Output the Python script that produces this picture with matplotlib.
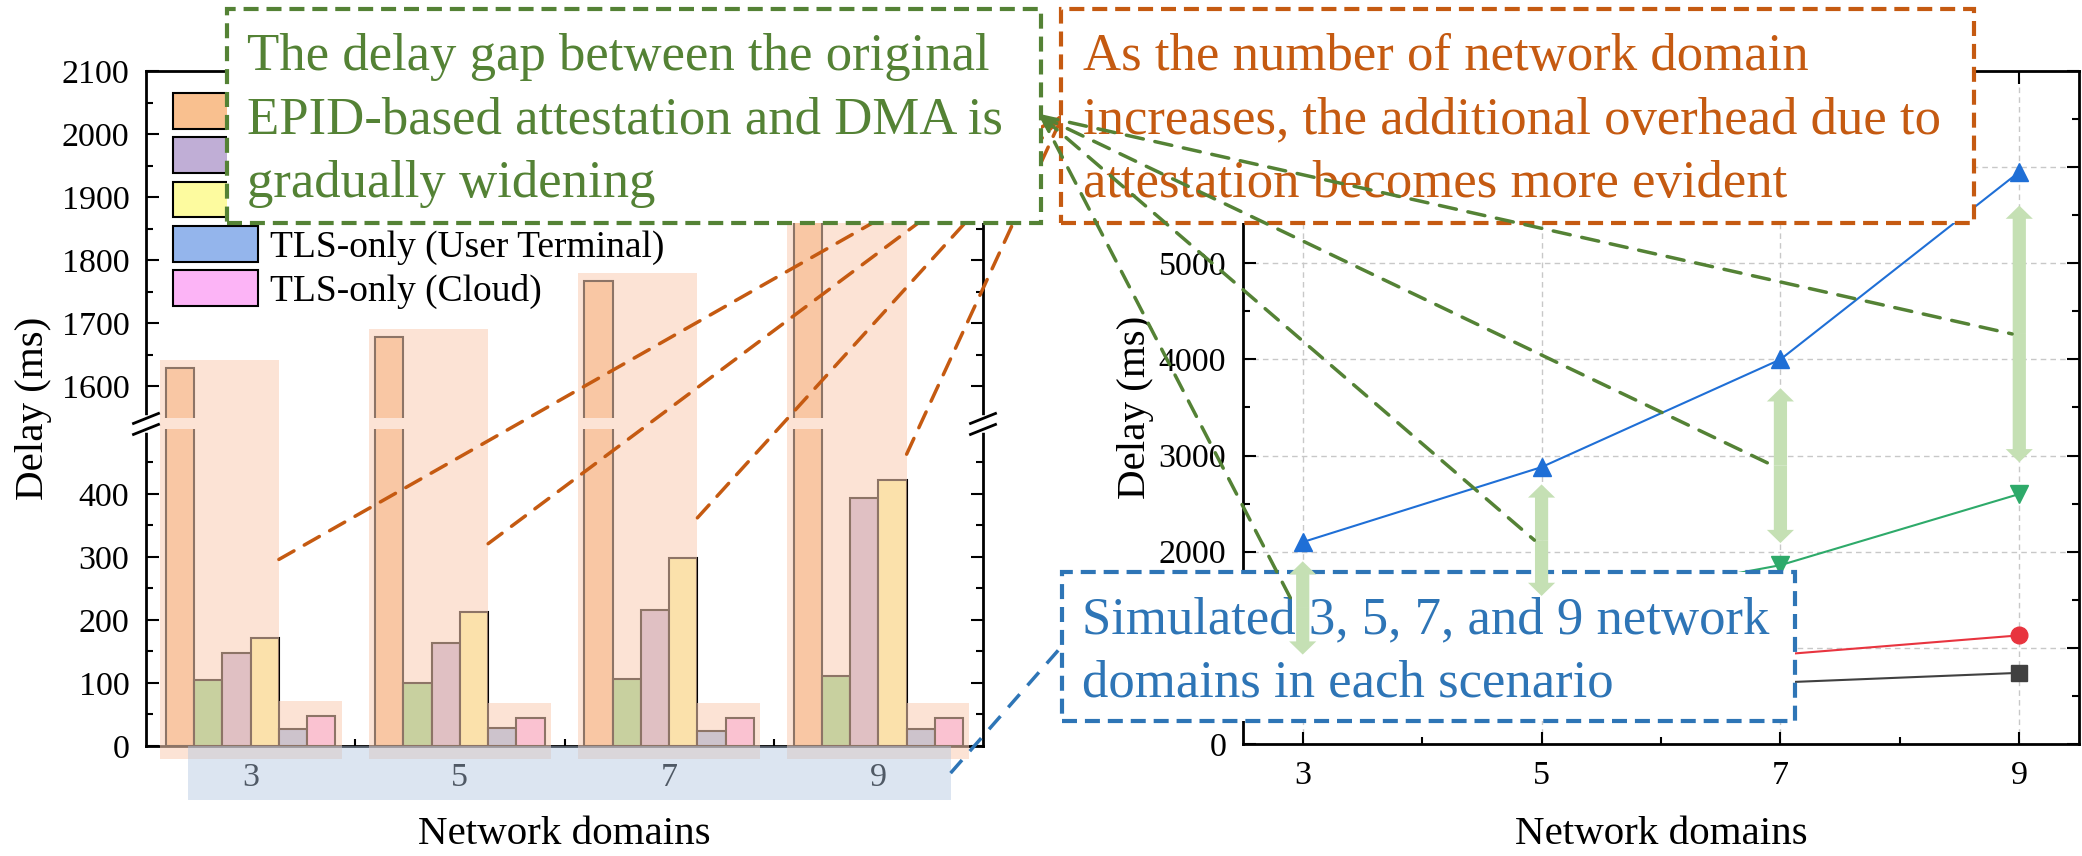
import numpy as np
import matplotlib
matplotlib.use("Agg")
import matplotlib.pyplot as plt
from matplotlib.patches import Rectangle, FancyArrowPatch, ConnectionPatch
from matplotlib.lines import Line2D
from matplotlib.ticker import FixedLocator

plt.rcParams["font.family"] = ["Liberation Serif", "DejaVu Serif"]

W, H = 2082, 856
GREEN = "#548235"
ORANGE = "#C55A11"
BLUE = "#2E75B6"

# ---------------- data ----------------
domains = [3, 5, 7, 9]

# left panel (bars, ms)
epid = [1628, 1678, 1767, 1920]
dma = [104, 100, 106, 111]
dma_user = [147, 163, 216, 394]
dma_cloud = [172, 212, 299, 422]
tls_user = [27, 28, 24, 27]
tls_cloud = [47, 44, 44, 44]

bar_series = [epid, dma, dma_user, dma_cloud, tls_user, tls_cloud]
bar_names = ["EPID-based attestation", "DMA", "DMA (User Terminal)", "DMA (Cloud)",
             "TLS-only (User Terminal)", "TLS-only (Cloud)"]
bar_colors = ["#F9C08F", "#88D384", "#C0AED6", "#FDFB9F", "#94B5EC", "#FCB4F6"]

# right panel (lines, ms)
line_epid = [2100, 2880, 4000, 5950]
line_dma = [830, 1400, 1860, 2600]
line_tls_a = [550, 740, 930, 1130]
line_tls_b = [420, 530, 640, 740]
right_yticks = [0, 1000, 2000, 3000, 4000, 5000, 6000, 7000]
right_ylabels = ["0", "", "2000", "3000", "4000", "5000", "", ""]  # the rest sit under the boxes

# gap arrows between EPID and DMA curves
gap_top = [1900, 2700, 3700, 5600]
gap_bottom = [930, 1540, 2090, 2930]

# where the orange pointers leave each bar group
callout_y = [296, 321, 362, 463]


def fx(px):
    return px / W


def fy(py):
    return 1 - py / H


fig = plt.figure(figsize=(W / 100, H / 100), dpi=100)
ax1 = fig.add_axes([fx(146), fy(746), fx(983) - fx(146), fy(71) - fy(746)])
ax2 = fig.add_axes([fx(1243), fy(744), fx(2079) - fx(1243), fy(71) - fy(744)])

# ---------------- left: broken y axis bar chart ----------------
LO, HI = 511, 1541


def fwd(y):
    y = np.asarray(y, float)
    return np.where(y <= LO, y, np.where(y >= HI, y - (HI - LO) + 1, LO + (y - LO) / (HI - LO)))


def inv(t):
    t = np.asarray(t, float)
    return np.where(t <= LO, t, np.where(t >= LO + 1, t + (HI - LO) - 1, LO + (t - LO) * (HI - LO)))


ax1.set_yscale("function", functions=(fwd, inv))
ax1.set_xlim(2, 10)
ax1.set_ylim(0, 2100)

w = 0.27
x = np.array(domains, float)
bars = []
for i, (vals, name, col) in enumerate(zip(bar_series, bar_names, bar_colors)):
    b = ax1.bar(x + (i - 2.5) * w, vals, w, color=col, edgecolor="black",
                linewidth=1.5, label=name, zorder=1)
    bars.append(b)

# white gap across the bars at the break
ax1.axhspan(503, 1549, color="white", lw=0, zorder=1.5)

# translucent orange highlight boxes over each group
hl = (250 / 255, 206 / 255, 181 / 255)
for k, xc in enumerate(x):
    left = xc - 3 * w - 0.06
    mid = xc + w
    right = xc + 3 * w + 0.06
    ax1.add_patch(Rectangle((left, -20), mid - left, epid[k] + 33, fc=hl, alpha=0.57,
                            lw=0, zorder=3, clip_on=False))
    small_top = max(tls_user[k], tls_cloud[k]) + 25
    ax1.add_patch(Rectangle((mid, -20), right - mid, small_top + 20, fc=hl, alpha=0.57,
                            lw=0, zorder=3, clip_on=False))

# translucent blue band over the x tick labels
band_x0, band_x1, band_depth = 2.40, 9.69, 86
ax1.add_patch(Rectangle((band_x0, -band_depth), band_x1 - band_x0, band_depth,
                        fc=(178 / 255, 199 / 255, 226 / 255),
                        alpha=0.45, lw=0, zorder=3, clip_on=False))

ax1.yaxis.set_major_locator(FixedLocator([0, 100, 200, 300, 400, 1600, 1700, 1800, 1900, 2000, 2100]))
ax1.yaxis.set_minor_locator(FixedLocator([50, 150, 250, 350, 450, 1650, 1750, 1850, 1950, 2050]))
ax1.yaxis.set_major_formatter(lambda v, p: f"{v:.0f}")
ax1.set_xticks(domains)
ax1.set_xticks([4, 6, 8], minor=True)
ax1.tick_params(axis="both", which="both", direction="in", top=True, right=True,
                width=1.5, labelsize=24.5)
ax1.tick_params(which="major", length=9)
ax1.tick_params(which="minor", length=5)
ax1.tick_params(axis="x", which="major", length=0, pad=12)
ax1.tick_params(axis="y", pad=12)
for s in ax1.spines.values():
    s.set_linewidth(2)

# break marks on both spines
bf = float(fwd(LO)) / float(fwd(2100))
dx, dy = 12.5 / 837, 5 / 675
for xs in (0, 1):
    ax1.plot([xs, xs], [bf - 6 / 675, bf + 6 / 675], transform=ax1.transAxes, color="white",
             lw=4, clip_on=False, zorder=4)
    for off in (-5.5, 5.5):
        yy = bf + off / 675
        ax1.plot([xs - dx, xs + dx], [yy - dy, yy + dy], transform=ax1.transAxes,
                 color="black", lw=2, clip_on=False, zorder=4)

ax1.set_ylabel("Delay (ms)", fontsize=29.5, va="center")
ax1.yaxis.set_label_coords((34 - 146) / 837, 0.5)
ax1.set_xlabel("Network domains", fontsize=29.5, va="center")
ax1.xaxis.set_label_coords(0.5, (746 - 835) / 675)

# first three legend labels are covered by the green box in the reference
leg_idx = [0, 2, 3, 4, 5]
leg_text = ["", "", "", bar_names[4], bar_names[5]]
ax1.legend([bars[i] for i in leg_idx], leg_text, loc="upper left",
           bbox_to_anchor=(27 / 837, (746 - 93) / 675), frameon=False, fontsize=27,
           handlelength=2.27, handleheight=1.09, labelspacing=0.15, handletextpad=0.32,
           borderaxespad=0, borderpad=0)

# ---------------- right: line chart ----------------
ax2.set_xlim(2.5, 9.5)
ax2.set_ylim(0, 7000)
ax2.plot(domains, line_tls_b, color="#404040", marker="s", ms=11, lw=1.5, zorder=3)
ax2.plot(domains, line_tls_a, color="#E8343F", marker="o", ms=12, lw=1.5, zorder=3)
ax2.plot(domains, line_dma, color="#2EAA6A", marker="v", ms=13, lw=1.5, zorder=3)
ax2.plot(domains, line_epid, color="#1F6FD6", marker="^", ms=13, lw=1.5, zorder=3)
ax2.set_xticks(domains)
ax2.set_xticks([4, 6, 8], minor=True)
ax2.set_yticks(right_yticks, right_ylabels)
ax2.set_yticks(range(500, 7000, 1000), minor=True)
ax2.grid(True, which="major", ls=(0, (4, 3)), color="#C8C8C8", lw=1)
ax2.tick_params(axis="both", which="both", direction="in", top=True, right=True,
                width=1.5, labelsize=24.5)
ax2.tick_params(which="major", length=9)
ax2.tick_params(which="minor", length=5)
ax2.tick_params(axis="x", pad=12)
ax2.tick_params(axis="y", pad=12)
for s in ax2.spines.values():
    s.set_linewidth(2)
ax2.set_ylabel("Delay (ms)", fontsize=29.5, va="center")
ax2.yaxis.set_label_coords((1135 - 1243) / 836, 0.5)
ax2.set_xlabel("Network domains", fontsize=29.5, va="center")
ax2.xaxis.set_label_coords(0.5, (744 - 835) / 673)

# ---------------- callouts ----------------
# orange pointers (under the green box)
for k, xc in enumerate(domains):
    fig.add_artist(ConnectionPatch(xyA=(xc + w, callout_y[k]), coordsA="data", axesA=ax1,
                                   xyB=(fx(1063), fy(115)), coordsB="figure fraction",
                                   color=ORANGE, lw=2.5, ls=(0, (5, 3.4)), zorder=3,
                                   annotation_clip=False))


def box(x0, y0, x1, y1, color):
    fig.add_artist(Rectangle((fx(x0), fy(y1)), fx(x1) - fx(x0), fy(y0) - fy(y1),
                             transform=fig.transFigure, fc="white", ec=color, lw=3,
                             ls=(0, (3.6, 1.9)), zorder=4))


box(227, 9, 1041, 223, GREEN)
box(1061, 9, 1974, 223, ORANGE)
box(1062, 572, 1795, 721, BLUE)

green_text = ["The delay gap between the original",
              "EPID-based attestation and DMA is",
              "gradually widening"]
orange_text = ["As the number of network domain",
               "increases, the additional overhead due to",
               "attestation becomes more evident"]
blue_text = ["Simulated 3, 5, 7, and 9 network",
             "domains in each scenario"]
for i, s in enumerate(green_text):
    fig.text(fx(247), fy(70 + 63.5 * i), s, color=GREEN, fontsize=38, va="baseline", zorder=5)
for i, s in enumerate(orange_text):
    fig.text(fx(1083), fy(70 + 63.5 * i), s, color=ORANGE, fontsize=38, va="baseline", zorder=5)
for i, s in enumerate(blue_text):
    fig.text(fx(1082), fy(633 + 63.5 * i), s, color=BLUE, fontsize=38, va="baseline", zorder=5)

# green double arrows showing the gap (two half arrows from the middle)
for xc, top, bot in zip(domains, gap_top, gap_bottom):
    mid = (top + bot) / 2
    for end in (top, bot):
        fig.add_artist(FancyArrowPatch((xc, mid), (xc, end), transform=ax2.transData,
                                       arrowstyle="simple,head_length=0.95,head_width=1.95,tail_width=0.95",
                                       mutation_scale=10, color="#C5E0B4", lw=0,
                                       shrinkA=0, shrinkB=0, zorder=6))

# green pointers from the green box to each gap arrow
for k, xc in enumerate(domains):
    mid = (gap_top[k] + gap_bottom[k]) / 2
    fig.add_artist(ConnectionPatch(xyA=(fx(1041), fy(116)), coordsA="figure fraction",
                                   xyB=(xc - 0.06, mid), coordsB="data", axesB=ax2,
                                   arrowstyle="<|-" if k == 1 else "-", mutation_scale=18,
                                   color=GREEN, lw=2.5, ls=(0, (5, 3.4)), zorder=6,
                                   annotation_clip=False))

# blue pointer from the blue box to the right end of the x-axis band
band_end = ax1.transData.transform((band_x1, -band_depth / 2))
band_end = fig.transFigure.inverted().transform(band_end)
fig.add_artist(Line2D([band_end[0], fx(1062)], [band_end[1], fy(646)],
                      transform=fig.transFigure, color=BLUE, lw=2.5,
                      ls=(0, (5, 3.4)), zorder=6))

fig.savefig("out.png", dpi=100)
